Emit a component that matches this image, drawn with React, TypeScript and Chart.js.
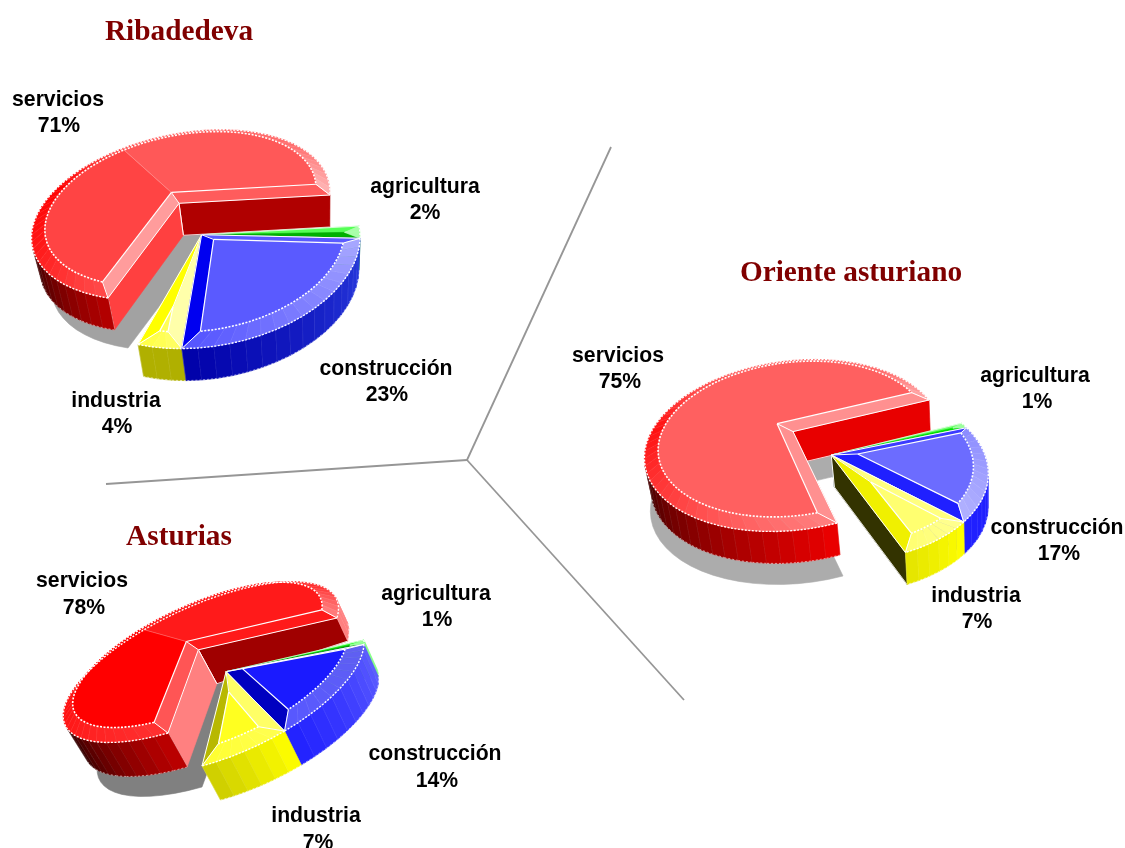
import React, { useEffect, useRef } from "react";
import { Chart, registerables } from "chart.js";

Chart.register(...registerables);

const categories = ["agricultura", "construcción", "industria", "servicios"];
const ribadedevaValues = [2, 23, 4, 71];
const orienteValues = [1, 17, 7, 75];
const asturiasValues = [1, 14, 7, 78];
const pieTitles = ["Ribadedeva", "Oriente asturiano", "Asturias"];

type Stop = [number, string];
type SliceStyle = {
  top: string[];
  startBevel: string;
  endBevel: string;
  arc: Stop[];
  wall: Stop[];
  startWall: string;
  endWall: string;
};

const pieLooks: any[] = [
  {
    rotation: 95,
    drawOrder: [3, 0, 2, 1],
    controls: [[0, 204, 161], [90, 357, 218], [180, 198, 348], [270, 60, 250]],
    explodedControls: [[95, 330, 195], [199.4, 108, 298], [275, 39, 211], [19.4, 234, 130]],
    depth: [4, 32],
    lift: [0, -4],
    convergence: 0.03,
    axisX: 190,
    farShrink: 0,
    farY: 0,
    shadow: [20, 50, "#a2a2a2"],
    slices: [
      { top: ["#55ff55"], startBevel: "#55ff55", endBevel: "#00b000", arc: [[0, "#a8ffa8"], [1, "#a8ffa8"]], wall: [[0, "#20c020"], [1, "#20c020"]], startWall: "#00b000", endWall: "#00b000" },
      { top: ["#5a5aff"], startBevel: "#5a5aff", endBevel: "#0000f0", arc: [[0, "#a8a8ff"], [1, "#5555ff"]], wall: [[0, "#2a3ce0"], [1, "#0000a8"]], startWall: "#0000c0", endWall: "#0000a8" },
      { top: ["#ffff55"], startBevel: "#ffffaa", endBevel: "#ffff00", arc: [[0, "#ffff66"], [1, "#ffff44"]], wall: [[0, "#b0b000"], [1, "#b0b000"]], startWall: "#b0b000", endWall: "#b0b000" },
      { top: ["#ff4444", "#ff5858"], startBevel: "#ff9c9c", endBevel: "#ff5c5c", arc: [[0, "#ff4a4a"], [0.18, "#ff1818"], [0.36, "#ff0000"], [0.5, "#ff5050"], [0.85, "#ff7070"], [1, "#ffb4b4"]], wall: [[0, "#b80000"], [0.28, "#000000"], [1, "#000000"]], startWall: "#ff4040", endWall: "#b00000" },
    ],
  },
  {
    rotation: 67,
    drawOrder: [3, 0, 1, 2],
    controls: [[0, 830, 383], [90, 985, 455], [180, 833, 562], [270, 683, 455]],
    explodedControls: [[67, 929, 400], [157, 837, 523], [247, 645, 466], [337, 761, 365]],
    depth: [3, 32],
    lift: [0, -4],
    convergence: 0.02,
    axisX: 840,
    farShrink: 0,
    farY: 0,
    shadow: [6, 53, "#acacac"],
    slices: [
      { top: ["#70ff70"], startBevel: "#70ff70", endBevel: "#00e000", arc: [[0, "#98ff98"], [1, "#98ff98"]], wall: [[0, "#00e000"], [1, "#00e000"]], startWall: "#00e000", endWall: "#00e000" },
      { top: ["#6c6cff"], startBevel: "#3c3cff", endBevel: "#2020ff", arc: [[0, "#8c8cff"], [1, "#b0b0ff"]], wall: [[0, "#2020ff"], [1, "#2020ff"]], startWall: "#2020ff", endWall: "#2020ff" },
      { top: ["#ffff70"], startBevel: "#ffff80", endBevel: "#f0f000", arc: [[0, "#ffff90"], [1, "#ffff70"]], wall: [[0, "#ffff00"], [1, "#e4e400"]], startWall: "#e4e400", endWall: "#333300" },
      { top: ["#ff6060"], startBevel: "#ff9090", endBevel: "#ff9090", arc: [[0, "#ff8080"], [0.2, "#ff4848"], [0.42, "#ff1010"], [0.55, "#ff5050"], [0.9, "#ff6a6a"], [1, "#ffa8a8"]], wall: [[0, "#ee0000"], [0.45, "#000000"], [1, "#000000"]], startWall: "#ee0000", endWall: "#e80000" },
    ],
  },
  {
    rotation: 70,
    drawOrder: [3, 0, 1, 2],
    controls: [[70, 364, 640], [149.2, 202, 766], [250, 120, 696], [329.2, 238, 625]],
    explodedControls: [[70, 337, 618], [149.2, 168, 733], [250, 84, 676], [329.2, 218, 596]],
    depth: [18, 34],
    lift: [-3, -5],
    convergence: 0.02,
    axisX: 225,
    farShrink: 0.01,
    farY: 650,
    shadow: [34, 54, "#808080"],
    slices: [
      { top: ["#20ff20"], startBevel: "#20ff20", endBevel: "#00a000", arc: [[0, "#90ff90"], [1, "#90ff90"]], wall: [[0, "#80ff80"], [1, "#80ff80"]], startWall: "#80ff80", endWall: "#00a000" },
      { top: ["#1a1aff"], startBevel: "#3030ff", endBevel: "#0000c0", arc: [[0, "#6060f0"], [1, "#5858ff"]], wall: [[0, "#6060ff"], [1, "#2020ff"]], startWall: "#2020ff", endWall: "#2020ff" },
      { top: ["#ffff20"], startBevel: "#ffff66", endBevel: "#b8b800", arc: [[0, "#ffff50"], [1, "#ffff30"]], wall: [[0, "#ffff00"], [1, "#cccc00"]], startWall: "#ffff00", endWall: "#b8b800" },
      { top: ["#ff0000", "#ff1a1a"], startBevel: "#ff5555", endBevel: "#ff1a1a", arc: [[0, "#ff3030"], [0.3, "#ff0a0a"], [0.42, "#ff4040"], [0.5, "#ff1a1a"], [0.88, "#ff3030"], [1, "#ff8080"]], wall: [[0, "#c00000"], [0.25, "#000000"], [0.6, "#ff8080"], [1, "#ff8080"]], startWall: "#ff8080", endWall: "#a00000" },
    ],
  },
];

const titlePlaces = [[179, 32], [851, 273], [179, 537]];
const labelPlaces = [
  [[425, 187, 425, 213], [386, 369, 387, 395], [116, 401, 117, 427], [58, 100, 59, 126]],
  [[1035, 376, 1037, 402], [1057, 528, 1059, 554], [976, 596, 977, 622], [618, 356, 620, 382]],
  [[436, 594, 437, 620], [435, 754, 437, 781], [316, 816, 318, 843], [82, 581, 84, 608]],
];
const dividerHub = [467, 460];
const dividerEnds = [[611, 147], [106, 484], [684, 700]];

function solveHomography(controls: number[][]) {
  const m: number[][] = [];
  for (const [deg, x, y] of controls) {
    const r = (deg * Math.PI) / 180;
    const u = Math.sin(r);
    const v = -Math.cos(r);
    m.push([u, v, 1, 0, 0, 0, -u * x, -v * x, x]);
    m.push([0, 0, 0, u, v, 1, -u * y, -v * y, y]);
  }
  for (let c = 0; c < 8; c++) {
    let p = c;
    for (let r = c + 1; r < 8; r++) if (Math.abs(m[r][c]) > Math.abs(m[p][c])) p = r;
    [m[c], m[p]] = [m[p], m[c]];
    for (let r = 0; r < 8; r++) {
      if (r === c) continue;
      const f = m[r][c] / m[c][c];
      for (let k = c; k < 9; k++) m[r][k] -= f * m[c][k];
    }
  }
  return m.map((row, i) => row[8] / row[i]);
}

function hexRgb(h: string) {
  return [1, 3, 5].map((i) => parseInt(h.slice(i, i + 2), 16));
}

function stopColor(stops: Stop[], t: number) {
  for (let i = 1; i < stops.length; i++) {
    if (t <= stops[i][0]) {
      const [a, ca] = stops[i - 1];
      const [b, cb] = stops[i];
      const f = b === a ? 0 : (t - a) / (b - a);
      const A = hexRgb(ca);
      const B = hexRgb(cb);
      return `rgb(${A.map((v, k) => Math.round(v + (B[k] - v) * f)).join(",")})`;
    }
  }
  return stops[stops.length - 1][1];
}

function poly(ctx: CanvasRenderingContext2D, pts: number[][], fill: string) {
  ctx.beginPath();
  pts.forEach((p, i) => (i ? ctx.lineTo(p[0], p[1]) : ctx.moveTo(p[0], p[1])));
  ctx.closePath();
  ctx.fillStyle = fill;
  ctx.fill();
  ctx.strokeStyle = fill;
  ctx.lineWidth = 0.6;
  ctx.setLineDash([]);
  ctx.stroke();
}

function line(ctx: CanvasRenderingContext2D, pts: number[][], color: string, width: number, dash: number[] = []) {
  ctx.beginPath();
  pts.forEach((p, i) => (i ? ctx.lineTo(p[0], p[1]) : ctx.moveTo(p[0], p[1])));
  ctx.strokeStyle = color;
  ctx.lineWidth = width;
  ctx.setLineDash(dash);
  ctx.stroke();
  ctx.setLineDash([]);
}

const BEVEL = 0.09;
const FACET = (5 * Math.PI) / 180;
const SHADOW_REACH = 0.6;

function drawSlice(ctx: CanvasRenderingContext2D, arc: any, look: any, H: number[], index: number, shadowOnly: boolean) {
  const style: SliceStyle = look.slices[index];
  const a0: number = arc.startAngle;
  const a1: number = arc.endAngle;
  const half = (a1 - a0) / 2;
  const mid = (a0 + a1) / 2;
  const P = (u: number, v: number) => {
    const w = H[6] * u + H[7] * v + 1;
    return [(H[0] * u + H[1] * v + H[2]) / w, (H[3] * u + H[4] * v + H[5]) / w];
  };
  const rim = (a: number, r = 1) => P(Math.cos(a) * r, Math.sin(a) * r);
  const W = (p: number[]) => {
    const m = look.farShrink ? Math.max(0.65, Math.min(1, 1 + look.farShrink * (p[1] - look.farY))) : 1;
    return [p[0] + m * (look.depth[0] + look.convergence * (look.axisX - p[0])), p[1] + m * look.depth[1]];
  };
  const n = Math.max(2, Math.ceil((a1 - a0) / FACET));
  const at = (i: number) => a0 + ((a1 - a0) * i) / n;
  const O = P(0, 0);

  if (shadowOnly) {
    const [sx, sy, col] = look.shadow;
    const pts = [O];
    for (let i = 0; i <= n * SHADOW_REACH; i++) pts.push(rim(at(i)));
    pts.push(rim(a1, SHADOW_REACH));
    poly(ctx, pts.map((p) => [p[0] + sx, p[1] + sy]), col);
    return;
  }

  const visible = (p: number[], q: number[]) => {
    const w = W(p);
    return (q[0] - p[0]) * (w[1] - p[1]) - (q[1] - p[1]) * (w[0] - p[0]) < 0;
  };
  // radial cut walls
  const R0 = rim(a0);
  const R1 = rim(a1);
  if (visible(R1, O)) {
    poly(ctx, [R1, O, W(O), W(R1)], style.endWall);
    line(ctx, [O, W(O)], "#ffffff", 1);
    line(ctx, [W(O), W(R1)], "#ffffff", 0.8);
  }
  if (visible(O, R0)) {
    poly(ctx, [O, R0, W(R0), W(O)], style.startWall);
    line(ctx, [O, W(O)], "#ffffff", 1);
    line(ctx, [R0, W(R0)], "#ffffff", 1);
  }
  // outer wall facets
  for (let i = 0; i < n; i++) {
    const p = rim(at(i));
    const q = rim(at(i + 1));
    if (!visible(p, q)) continue;
    poly(ctx, [p, q, W(q), W(p)], stopColor(style.wall, (i + 0.5) / n));
    line(ctx, [q, W(q)], "rgba(255,255,255,0.2)", 0.7);
    line(ctx, [W(p), W(q)], "rgba(255,255,255,0.55)", 1, [2, 2]);
  }

  // bevels and top face; the top sits slightly above the rim unless the slice is too narrow for a face
  const wanted = BEVEL / Math.sin(half);
  const dist = Math.min(wanted, 1 - BEVEL);
  const narrow = wanted >= 1 - BEVEL;
  const lifted = narrow ? [0, 0] : look.lift;
  const up = (p: number[]) => [p[0] + lifted[0], p[1] + lifted[1]];
  const radialInset = dist * Math.sin(half);
  const delta = Math.asin(Math.min(1, radialInset / (1 - BEVEL)));
  const apex = up(P(Math.cos(mid) * dist, Math.sin(mid) * dist));
  const inner = (i: number) => up(rim(a0 + delta + ((a1 - a0 - 2 * delta) * i) / n, 1 - BEVEL));

  poly(ctx, [O, R0, inner(0), apex], style.startBevel);
  poly(ctx, [O, R1, inner(n), apex], style.endBevel);
  for (let i = 0; i < n; i++) {
    poly(ctx, [rim(at(i)), rim(at(i + 1)), inner(i + 1), inner(i)], stopColor(style.arc, (i + 0.5) / n));
    line(ctx, [rim(at(i + 1)), inner(i + 1)], "rgba(255,255,255,0.25)", 0.6);
  }
  const parts = style.top.length;
  const innerPts: number[][] = [];
  for (let i = 0; i <= n; i++) innerPts.push(inner(i));
  for (let k = 0; k < parts; k++) {
    const from = Math.floor((n * k) / parts);
    const to = Math.floor((n * (k + 1)) / parts);
    poly(ctx, [apex, ...innerPts.slice(from, to + 1)], style.top[k]);
    if (k > 0) line(ctx, [apex, innerPts[from]], "rgba(255,255,255,0.35)", 0.7);
  }
  // white edge lines
  const edge = narrow ? 0.7 : 1;
  if (!narrow) line(ctx, [O, apex], "#ffffff", 1);
  line(ctx, [O, R0], "#ffffff", edge);
  line(ctx, [O, R1], "#ffffff", edge);
  if (!narrow) {
    line(ctx, [apex, innerPts[0]], "#ffffff", 1.2);
    line(ctx, [apex, innerPts[n]], "#ffffff", 1.2);
    line(ctx, [R0, innerPts[0]], "#ffffff", 1);
    line(ctx, [R1, innerPts[n]], "#ffffff", 1);
    line(ctx, innerPts, "#ffffff", 1.6, [2, 1.5]);
  }
  const rimPts: number[][] = [];
  for (let i = 0; i <= n; i++) rimPts.push(rim(at(i)));
  line(ctx, rimPts, "#ffffff", 1.4, [2, 1.5]);
}

const piePlugin = {
  id: "perspectivePies",
  beforeDatasetsDraw(chart: any) {
    const ctx: CanvasRenderingContext2D = chart.ctx;
    ctx.save();
    // dividers
    for (const end of dividerEnds) line(ctx, [dividerHub, end], "#969696", 1.8);
    pieLooks.forEach((look, d) => {
      const H = solveHomography(look.controls);
      const HX = solveHomography(look.explodedControls);
      const arcs = chart.getDatasetMeta(d).data;
      drawSlice(ctx, arcs[3], look, HX, 3, true);
      look.drawOrder.forEach((i: number) => drawSlice(ctx, arcs[i], look, i === 3 ? HX : H, i, false));
    });
    // texts
    ctx.textAlign = "center";
    ctx.textBaseline = "middle";
    chart.data.datasets.forEach((ds: any, d: number) => {
      ctx.font = 'bold 29.3px "Liberation Serif"';
      ctx.fillStyle = "#800000";
      ctx.fillText(ds.label, titlePlaces[d][0], titlePlaces[d][1]);
      ctx.font = 'bold 21.2px "Liberation Sans"';
      ctx.fillStyle = "#000000";
      chart.data.labels.forEach((name: string, i: number) => {
        const [x1, y1, x2, y2] = labelPlaces[d][i];
        ctx.fillText(name, x1, y1);
        ctx.fillText(`${ds.data[i]}%`, x2, y2);
      });
    });
    ctx.restore();
    return false;
  },
};

export default function App() {
  const ref = useRef<HTMLCanvasElement | null>(null);
  useEffect(() => {
    if (!ref.current) return;
    const series = [ribadedevaValues, orienteValues, asturiasValues];
    const chart = new Chart(ref.current, {
      type: "pie",
      data: {
        labels: categories,
        datasets: series.map((data, d) => ({
          label: pieTitles[d],
          data,
          rotation: pieLooks[d].rotation,
          backgroundColor: ["#00ff00", "#0000ff", "#ffff00", "#ff0000"],
        })),
      } as any,
      options: {
        responsive: false,
        animation: false,
        devicePixelRatio: 1,
        events: [],
        plugins: { legend: { display: false }, tooltip: { enabled: false }, title: { display: false } },
      } as any,
      plugins: [piePlugin as any],
    });
    return () => chart.destroy();
  }, []);
  return (
    <div style={{ position: "absolute", left: 0, top: 0, width: 1125, height: 848, overflow: "hidden", background: "#ffffff" }}>
      <canvas ref={ref} width={1125} height={848} style={{ display: "block" }} />
    </div>
  );
}
